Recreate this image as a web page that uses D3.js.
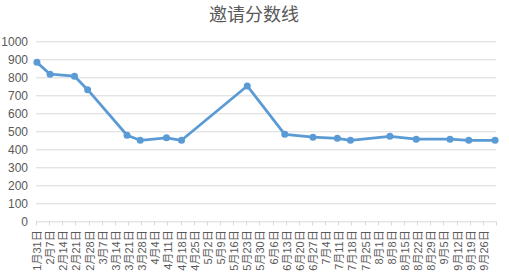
<!DOCTYPE html>
<html>
<head>
<meta charset="utf-8">
<script src="https://cdn.jsdelivr.net/npm/d3@7"></script>
<style>
  body { margin: 0; background: #fff; }
  text { font-family: "Liberation Sans", "Noto Sans CJK SC", sans-serif; fill: #595959; }
</style>
</head>
<body>
<svg width="509" height="279"></svg>
<script>
// data
var dates = ['2021-01-31', '2021-02-07', '2021-02-20', '2021-02-27', '2021-03-20', '2021-03-27',
  '2021-04-10', '2021-04-18', '2021-05-23', '2021-06-12', '2021-06-27', '2021-07-10',
  '2021-07-17', '2021-08-07', '2021-08-21', '2021-09-08', '2021-09-18', '2021-10-02'];
var scores = [883, 817, 806, 731, 478, 450, 464, 450, 752, 483, 467, 461, 450, 472, 456, 456, 450, 450];

var tickLabels = ['1月31日', '2月7日', '2月14日', '2月21日', '2月28日', '3月7日', '3月14日', '3月21日',
  '3月28日', '4月4日', '4月11日', '4月18日', '4月25日', '5月2日', '5月9日', '5月16日', '5月23日',
  '5月30日', '6月6日', '6月13日', '6月20日', '6月27日', '7月4日', '7月11日', '7月18日', '7月25日',
  '8月1日', '8月8日', '8月15日', '8月22日', '8月29日', '9月5日', '9月12日', '9月19日', '9月26日'];
var yTicks = [0, 100, 200, 300, 400, 500, 600, 700, 800, 900, 1000];

var svg = d3.select('svg');
var margin = { top: 41.3, left: 36, right: 13, bottom: 57.7 };
var width = 509 - margin.left - margin.right;
var height = 279 - margin.top - margin.bottom;
var g = svg.append('g')
  .attr('transform', 'translate(' + margin.left + ',' + margin.top + ')');

var parse = d3.utcParse('%Y-%m-%d');
var DAY = 864e5;
var start = parse('2021-01-31');
var end = new Date(start.getTime() + tickLabels.length * 7 * DAY);

var x = d3.scaleUtc().domain([start, end]).range([0, width]);
var y = d3.scaleLinear().domain([0, 1000]).range([height, 0]);

// middle of a day's slot
function mid(d) { return x(new Date(d.getTime() + DAY / 2)); }

svg.append('text')
  .attr('x', 254)
  .attr('y', 21)
  .attr('text-anchor', 'middle')
  .style('font-size', '18px')
  .text('邀请分数线');

// gridlines
g.selectAll('.grid')
  .data(yTicks)
  .enter().append('line')
  .attr('x1', 0).attr('x2', width)
  .attr('y1', function(d) { return y(d) + 0.5; })
  .attr('y2', function(d) { return y(d) + 0.5; })
  .attr('stroke', '#d9d9d9')
  .attr('stroke-width', 1);

var yAxis = d3.axisLeft(y).tickValues(yTicks).tickFormat(d3.format('d')).tickSize(0).tickPadding(8);
g.append('g')
  .call(yAxis)
  .call(function(s) { s.select('.domain').remove(); })
  .selectAll('text')
  .style('font-size', '12px')
  .style('fill', '#595959');

// x ticks, one a week
var tickDates = tickLabels.map(function(l, i) { return new Date(start.getTime() + i * 7 * DAY); });
var tickLines = tickDates.concat([end]);
g.selectAll('.xtick')
  .data(tickLines)
  .enter().append('line')
  .attr('x1', function(d) { return Math.round(x(d)) + 0.5; })
  .attr('x2', function(d) { return Math.round(x(d)) + 0.5; })
  .attr('y1', height)
  .attr('y2', height + 4)
  .attr('stroke', '#d9d9d9');

g.selectAll('.xlabel')
  .data(tickDates)
  .enter().append('text')
  .attr('transform', function(d) { return 'translate(' + (mid(d) + 4) + ',' + (height + 9) + ') rotate(-90)'; })
  .attr('text-anchor', 'end')
  .style('font-size', '11px')
  .text(function(d, i) { return tickLabels[i]; });

var points = dates.map(function(d, i) { return { date: parse(d), v: scores[i] }; });

var line = d3.line()
  .x(function(d) { return mid(d.date); })
  .y(function(d) { return y(d.v); });

g.append('path')
  .datum(points)
  .attr('d', line)
  .attr('fill', 'none')
  .attr('stroke', '#5b9bd5')
  .attr('stroke-width', 2.75)
  .attr('stroke-linejoin', 'round');

g.selectAll('.dot')
  .data(points)
  .enter().append('circle')
  .attr('cx', function(d) { return mid(d.date); })
  .attr('cy', function(d) { return y(d.v); })
  .attr('r', 3.5)
  .attr('fill', '#5b9bd5');
</script>
</body>
</html>
